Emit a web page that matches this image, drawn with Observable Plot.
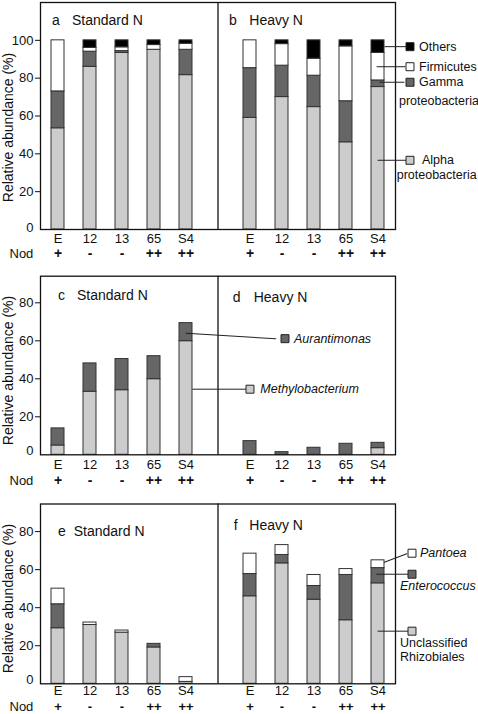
<!DOCTYPE html>
<html>
<head>
<meta charset="utf-8">
<script src="https://cdn.jsdelivr.net/npm/d3@7"></script>
<script src="https://cdn.jsdelivr.net/npm/@observablehq/plot@0.6"></script>
<style>
  html, body { margin: 0; padding: 0; background: #fff; }
  #chart { width: 478px; }
  #chart svg { display: block; }
</style>
</head>
<body>
<div id="chart"></div>
<script>
// ---------- data ----------
const strains = ["E", "12", "13", "65", "S4"];
const nodulation = ["+", "-", "-", "++", "++"];
const nitrogen = ["Standard N", "Heavy N"];
const yLabel = "Relative abundance (%)";
const nodLabel = "Nod";

// panels a / b : phyla
const phylaNames = ["Alpha proteobacteria", "Gamma proteobacteria", "Firmicutes", "Others"];
const alphaStd = [53.5, 86, 93.3, 95, 81.6];
const gammaStd = [19.5, 8, 1, 0, 13.4];
const firmicutesStd = [27, 2, 2, 2.5, 3.2];
const othersStd = [0, 4, 3.7, 2.5, 1.8];
const alphaHeavy = [59, 70, 64.7, 46.1, 75.3];
const gammaHeavy = [26.3, 16.6, 16.6, 21.7, 3.5];
const firmicutesHeavy = [14.7, 11.4, 9, 29, 14.5];
const othersHeavy = [0, 2, 9.7, 3.2, 6.7];

// panels c / d
const alphaGenera = ["Methylobacterium", "Aurantimonas"];
const methyloStd = [4.9, 33.2, 34, 39.8, 59.8];
const aurantiStd = [9, 14.9, 16.4, 12.1, 9.5];
const methyloHeavy = [0, 0, 0, 0, 3.5];
const aurantiHeavy = [7.2, 1.4, 3.7, 5.8, 2.8];

// panels e / f
const otherGenera = ["Unclassified Rhizobiales", "Enterococcus", "Pantoea"];
const rhizoStd = [29.2, 30.9, 26.9, 19.1, 1];
const enteroStd = [12.6, 0, 0, 1.9, 0];
const pantoeaStd = [8.2, 1.3, 1.1, 0, 2.5];
const rhizoHeavy = [46, 63.3, 44.2, 33.4, 52.8];
const enteroHeavy = [11.7, 4.4, 7.2, 23.8, 8];
const pantoeaHeavy = [10.7, 5.2, 5.8, 3.1, 4.1];

const yTicksAB = [0, 20, 40, 60, 80, 100];
const yTicksCF = [0, 20, 40, 60, 80];

// ---------- styles ----------
const LIGHT = "#cccccc", DARK = "#666666", WHITE = "#ffffff", BLACK = "#000000";
const FONT = "'Liberation Sans', Arial, Helvetica, sans-serif";
const GAP = "|";
const slotKey = (c, s) => c + "|" + s;
const xDomain = [...strains.map(s => slotKey("S", s)), GAP, ...strains.map(s => slotKey("H", s))];
const realSlots = xDomain.filter(d => d !== GAP);

const leaderShape = { draw(context, length) { context.moveTo(0, 0); context.lineTo(0, -length); } };

function callout(slot, yv, o) {
  const d = [{ slot, y: yv }];
  const marks = [
    Plot.vector(d, { x: "slot", y: "y", length: o.len, rotate: o.ang ?? 90, anchor: "start",
      shape: leaderShape, stroke: "#222", strokeWidth: 1, dx: o.lx ?? 0, dy: o.ly ?? 0 }),
    Plot.dot(d, { x: "slot", y: "y", symbol: "square", r: 4.5, fill: o.fill, stroke: "#222",
      strokeWidth: 1, dx: o.sx, dy: o.sy ?? 0 })
  ];
  for (const t of o.texts) {
    marks.push(Plot.text(d, { x: "slot", y: "y", text: () => t.t, textAnchor: "start", lineAnchor: "middle",
      dx: t.dx, dy: t.dy ?? 0, fontSize: 12.5, fontStyle: t.italic ? "italic" : "normal", fill: "#111" }));
  }
  return marks;
}

function panel(cfg) {
  const rows = [];
  cfg.names.forEach((name, k) => {
    [["S", cfg.std[k]], ["H", cfg.heavy[k]]].forEach(([c, vals]) =>
      vals.forEach((v, i) => { if (v > 0) rows.push({ slot: slotKey(c, strains[i]), name, value: v }); }));
  });
  const mid = (cond, k, i) => {
    const arr = cond === "S" ? cfg.std : cfg.heavy;
    let s = 0;
    for (let j = 0; j < k; j++) s += arr[j][i];
    return s + arr[k][i] / 2;
  };
  const nodRows = realSlots.map((slot, i) => ({ slot, t: nodulation[i % 5] }));
  const calloutMarks = cfg.callouts.flatMap(c =>
    callout(slotKey(c.cond, c.strain), mid(c.cond, c.k, strains.indexOf(c.strain)), { ...c, fill: cfg.fills[c.k] }));

  const titleMarks = cfg.titles.flatMap((t, j) => {
    const d = [{ slot: t.slot }];
    return [
      Plot.text(d, { x: "slot", frameAnchor: "top", text: () => cfg.letters[j], textAnchor: "start", lineAnchor: "middle", dx: t.ldx, dy: t.dy, fontSize: 14, fill: "#111" }),
      Plot.text(d, { x: "slot", frameAnchor: "top", text: () => nitrogen[j], textAnchor: "start", lineAnchor: "middle", dx: t.tdx, dy: t.dy, fontSize: 14, fill: "#111" })
    ];
  });

  return Plot.plot({
    width: 478,
    height: cfg.height,
    marginTop: cfg.marginTop,
    marginBottom: cfg.marginBottom,
    marginLeft: 40,
    marginRight: 83,
    style: { fontFamily: FONT, fontSize: "13px", background: "#fff", color: "#111" },
    x: { domain: xDomain, paddingInner: 0.59, paddingOuter: 0.295 },
    y: { domain: [0, cfg.yMax] },
    color: { domain: cfg.names, range: cfg.fills },
    marks: [
      Plot.barY(rows, { x: "slot", y: "value", fill: "name", stroke: "#333", strokeWidth: 1 }),
      Plot.ruleX([GAP], { stroke: "#111", strokeWidth: 1.3 }),
      Plot.frame({ stroke: "#111", strokeWidth: 1.3 }),
      Plot.axisY({ ticks: cfg.ticks.filter(t => t > 0), tickSize: 5, tickPadding: 2, fontSize: 13, label: null }),
      Plot.axisY({ ticks: [0], tickSize: 0, tickPadding: 7, dy: cfg.zeroDy, fontSize: 13, label: null }),
      Plot.axisX({ ticks: realSlots, tickFormat: d => d.split("|")[1], tickSize: 0, tickPadding: cfg.tickPad, fontSize: 13, label: null }),
      Plot.text(nodRows, { x: "slot", text: "t", frameAnchor: "bottom", lineAnchor: "middle", dy: cfg.nodDy, fontWeight: "bold", fontSize: cfg.nodSize, fill: "#111" }),
      Plot.text([nodLabel], { frameAnchor: "bottom-left", lineAnchor: "middle", dx: -31, dy: cfg.nodDy, textAnchor: "start", fontSize: 13, fill: "#111" }),
      Plot.text([yLabel], { frameAnchor: "left", textAnchor: "middle", lineAnchor: "middle", rotate: -90, dx: -32, dy: cfg.ylabelDy, fontSize: 14, fill: "#111" }),
      ...titleMarks,
      ...calloutMarks
    ]
  });
}

const panels = [
  {
    height: 270, marginTop: 2, marginBottom: 41, yMax: 120, ticks: yTicksAB, zeroDy: -2, ylabelDy: 11.5,
    tickPad: 4, nodDy: 24.5, nodSize: 14,
    names: phylaNames, fills: [LIGHT, DARK, WHITE, BLACK],
    std: [alphaStd, gammaStd, firmicutesStd, othersStd],
    heavy: [alphaHeavy, gammaHeavy, firmicutesHeavy, othersHeavy],
    letters: ["a", "b"],
    titles: [{ slot: "S|E", ldx: -6, tdx: 14, dy: 18 }, { slot: "H|E", ldx: -21, tdx: -0.7, dy: 18 }],
    callouts: [
      { cond: "H", strain: "S4", k: 3, lx: 7, len: 22, sx: 32, texts: [{ t: "Others", dx: 41 }] },
      { cond: "H", strain: "S4", k: 2, lx: -1, len: 28, sx: 32, texts: [{ t: "Firmicutes", dx: 41 }] },
      { cond: "H", strain: "S4", k: 1, lx: 2, ly: -1.5, len: 24, sx: 32, sy: -1.5,
        texts: [{ t: "Gamma", dx: 41, dy: -1.5 }, { t: "proteobacteria", dx: 21, dy: 16.8 }] },
      { cond: "H", strain: "S4", k: 0, lx: 0, ly: 2, len: 28, sx: 32, sy: 2,
        texts: [{ t: "Alpha", dx: 44, dy: 2 }, { t: "proteobacteria", dx: 18.7, dy: 17 }] }
    ]
  },
  {
    height: 228, marginTop: 5.7, marginBottom: 43.7, yMax: 94, ticks: yTicksCF, zeroDy: -4, ylabelDy: 5,
    tickPad: 5, nodDy: 26, nodSize: 14,
    names: alphaGenera, fills: [LIGHT, DARK],
    std: [methyloStd, aurantiStd], heavy: [methyloHeavy, aurantiHeavy],
    letters: ["c", "d"],
    titles: [{ slot: "S|E", ldx: 0, tdx: 19, dy: 19.5 }, { slot: "H|E", ldx: -17.3, tdx: 3.7, dy: 21 }],
    callouts: [
      { cond: "S", strain: "S4", k: 1, lx: 0, ly: 1, len: 90, ang: 93.6, sx: 99, sy: 6.5,
        texts: [{ t: "Aurantimonas", dx: 108, dy: 6.5, italic: true }] },
      { cond: "S", strain: "S4", k: 0, lx: 6.7, ly: -8.8, len: 53, sx: 64, sy: -8.8,
        texts: [{ t: "Methylobacterium", dx: 74.3, dy: -8.8, italic: true }] }
    ]
  },
  {
    height: 216, marginTop: 5.5, marginBottom: 30.7, yMax: 94.5, ticks: yTicksCF, zeroDy: -4, ylabelDy: 4.6,
    tickPad: 2, nodDy: 23.5, nodSize: 13,
    names: otherGenera, fills: [LIGHT, DARK, WHITE],
    std: [rhizoStd, enteroStd, pantoeaStd], heavy: [rhizoHeavy, enteroHeavy, pantoeaHeavy],
    letters: ["e", "f"],
    titles: [{ slot: "S|E", ldx: 0, tdx: 15.7, dy: 28 }, { slot: "H|E", ldx: -16.3, tdx: -0.7, dy: 21.5 }],
    callouts: [
      { cond: "H", strain: "S4", k: 2, lx: 6.3, ly: -2, len: 24, ang: 69.4, sx: 34, sy: -11,
        texts: [{ t: "Pantoea", dx: 42, dy: -11, italic: true }] },
      { cond: "H", strain: "S4", k: 1, lx: -1.3, ly: -1.5, len: 31, sx: 34, sy: -1.5,
        texts: [{ t: "Enterococcus", dx: 22, dy: 9.8, italic: true }] },
      { cond: "H", strain: "S4", k: 0, lx: 0, ly: -2.4, len: 30, sx: 34, sy: -2.4,
        texts: [{ t: "Unclassified", dx: 22, dy: 9.6 }, { t: "Rhizobiales", dx: 22, dy: 23.6 }] }
    ]
  }
];

const root = document.getElementById("chart");
for (const cfg of panels) root.appendChild(panel(cfg));
</script>
</body>
</html>
